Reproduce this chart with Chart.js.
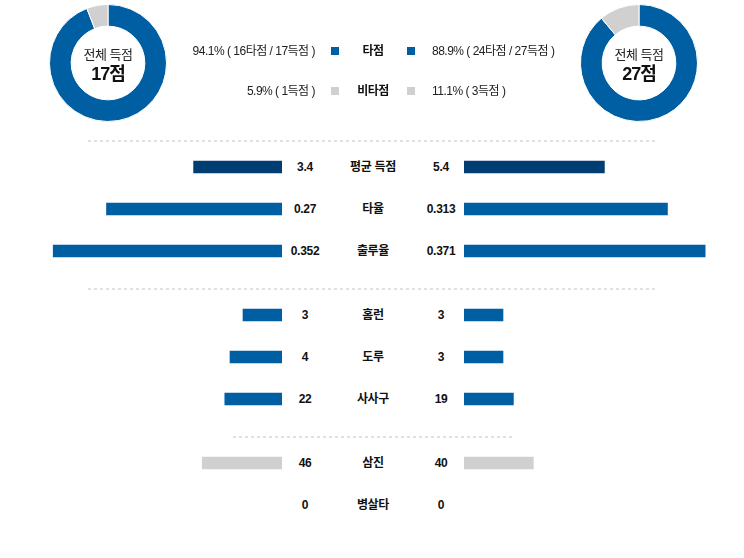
<!DOCTYPE html>
<html>
<head>
<meta charset="utf-8">
<script src="https://cdn.jsdelivr.net/npm/chart.js@4.4.1/dist/chart.umd.min.js"></script>
<style>
  body { margin: 0; background: #fff; font-family: "Liberation Sans", "Noto Sans CJK KR", sans-serif; }
  #wrap { position: relative; width: 744px; height: 558px; overflow: hidden; }
  .abs { position: absolute; }
  .donutText { position: absolute; width: 120px; text-align: center; color: #222; }
  .donutText .t1 { font-size: 13px; line-height: 16px; letter-spacing: -0.5px; }
  .donutText .t2 { font-size: 18px; line-height: 22px; font-weight: bold; color: #111; letter-spacing: -1px; }
  .lg { position: absolute; font-size: 12px; line-height: 16px; color: #222; white-space: nowrap; letter-spacing: -0.5px; }
  .sq { position: absolute; width: 8px; height: 8px; }
  .dots { position: absolute; height: 2px;
    background-image: linear-gradient(to right, #e2e2e2 50%, rgba(255,255,255,0) 50%);
    background-size: 6px 2px; }
  .cell { position: absolute; height: 42px; line-height: 42px; font-size: 12px; font-weight: bold;
    color: #111; text-align: center; white-space: nowrap; letter-spacing: -0.3px; }
</style>
</head>
<body>
<div id="wrap"></div>
<script>
// 팀 득점 구성
var teams = ['home', 'away'];
var totalRuns = [17, 27];
var rbiRuns = [16, 24];

// 비교 지표
var categories = ['평균 득점', '타율', '출루율', '홈런', '도루', '사사구', '삼진', '병살타'];
var homeValues = [3.4, 0.27, 0.352, 3, 4, 22, 46, 0];
var awayValues = [5.4, 0.313, 0.371, 3, 3, 19, 40, 0];
var scaleMax = [10, 0.4, 0.4, 20, 20, 100, 150, 20];
var groupSizes = [3, 3, 2];

var BLUE = '#005ea3';
var NAVY = '#003d73';
var GREY = '#d0d0d0';
var rowColors = [NAVY, BLUE, BLUE, BLUE, BLUE, BLUE, GREY, GREY];

var wrap = document.getElementById('wrap');

function el(tag, cls, css, text) {
    var d = document.createElement(tag);
    if (cls) d.className = cls;
    Object.assign(d.style, css || {});
    if (text !== undefined) d.textContent = text;
    wrap.appendChild(d);
    return d;
}

function pct(a, b) {
    return (a / b * 100).toFixed(1) + '%';
}

// 도넛
var donutLeft = [49, 580];
teams.forEach(function (t, i) {
    var c = el('canvas', 'abs', { left: donutLeft[i] + 'px', top: '4px' });
    c.width = 118;
    c.height = 118;
    new Chart(c.getContext('2d'), {
        type: 'doughnut',
        data: {
            labels: ['타점', '비타점'],
            datasets: [{
                data: [rbiRuns[i], totalRuns[i] - rbiRuns[i]],
                backgroundColor: [BLUE, GREY],
                borderColor: '#fff',
                borderWidth: 1
            }]
        },
        options: {
            responsive: false,
            animation: false,
            cutout: '63%',
            plugins: { legend: { display: false }, tooltip: { enabled: false } }
        }
    });
    var box = el('div', 'donutText', { left: (donutLeft[i] - 1) + 'px', top: '47px' });
    var t1 = document.createElement('div');
    t1.className = 't1';
    t1.textContent = '전체 득점';
    var t2 = document.createElement('div');
    t2.className = 't2';
    t2.textContent = totalRuns[i] + '점';
    box.appendChild(t1);
    box.appendChild(t2);
});

// 범례
var lgRows = [
    { y: 43, label: '타점', color: BLUE,
      left: pct(rbiRuns[0], totalRuns[0]) + ' ( ' + rbiRuns[0] + '타점 / ' + totalRuns[0] + '득점 )',
      right: pct(rbiRuns[1], totalRuns[1]) + ' ( ' + rbiRuns[1] + '타점 / ' + totalRuns[1] + '득점 )' },
    { y: 83, label: '비타점', color: GREY,
      left: pct(totalRuns[0] - rbiRuns[0], totalRuns[0]) + ' ( ' + (totalRuns[0] - rbiRuns[0]) + '득점 )',
      right: pct(totalRuns[1] - rbiRuns[1], totalRuns[1]) + ' ( ' + (totalRuns[1] - rbiRuns[1]) + '득점 )' }
];
lgRows.forEach(function (r) {
    el('div', 'lg', { right: (744 - 315) + 'px', top: r.y + 'px', textAlign: 'right' }, r.left);
    el('div', 'sq', { left: '331px', top: (r.y + 4) + 'px', background: r.color });
    el('div', 'lg', { left: '333px', width: '80px', top: r.y + 'px', textAlign: 'center', fontWeight: 'bold', color: '#111' }, r.label);
    el('div', 'sq', { left: '407px', top: (r.y + 4) + 'px', background: r.color });
    el('div', 'lg', { left: '432px', top: r.y + 'px' }, r.right);
});

// 구분선
el('div', 'dots', { left: '88px', width: '570px', top: '140px' });
el('div', 'dots', { left: '88px', width: '570px', top: '288px' });
el('div', 'dots', { left: '233px', width: '282px', top: '436px' });

// 막대 그룹
var groupTops = [146, 294, 442];

function barChart(canvas, values, colors, reverse) {
    new Chart(canvas.getContext('2d'), {
        type: 'bar',
        data: {
            labels: values.map(function (v, k) { return k; }),
            datasets: [{
                data: values,
                // 0인 막대는 그리지 않음
                backgroundColor: values.map(function (v, k) { return v > 0 ? colors[k] : 'rgba(0,0,0,0)'; }),
                borderWidth: 0,
                barThickness: 12
            }]
        },
        options: {
            indexAxis: 'y',
            responsive: false,
            animation: false,
            layout: { padding: 0 },
            scales: {
                x: { display: false, min: 0, max: 1, reverse: reverse },
                y: { display: false }
            },
            plugins: { legend: { display: false }, tooltip: { enabled: false } }
        }
    });
}

var start = 0;
groupSizes.forEach(function (n, g) {
    var idx = [];
    for (var k = start; k < start + n; k++) idx.push(k);
    start += n;
    var top = groupTops[g];
    var h = n * 42;

    var homeNorm = idx.map(function (k) { return homeValues[k] / scaleMax[k]; });
    var awayNorm = idx.map(function (k) { return awayValues[k] / scaleMax[k]; });
    var colors = idx.map(function (k) { return rowColors[k]; });

    var lc = el('canvas', 'abs', { left: '22px', top: top + 'px' });
    lc.width = 260; lc.height = h;
    barChart(lc, homeNorm, colors, true);

    var rc = el('canvas', 'abs', { left: '464px', top: top + 'px' });
    rc.width = 260; rc.height = h;
    barChart(rc, awayNorm, colors, false);

    idx.forEach(function (k, j) {
        var y = top + j * 42;
        el('div', 'cell', { left: '282px', width: '46px', top: y + 'px' }, String(homeValues[k]));
        el('div', 'cell', { left: '328px', width: '90px', top: y + 'px' }, categories[k]);
        el('div', 'cell', { left: '418px', width: '46px', top: y + 'px' }, String(awayValues[k]));
    });
});
</script>
</body>
</html>
